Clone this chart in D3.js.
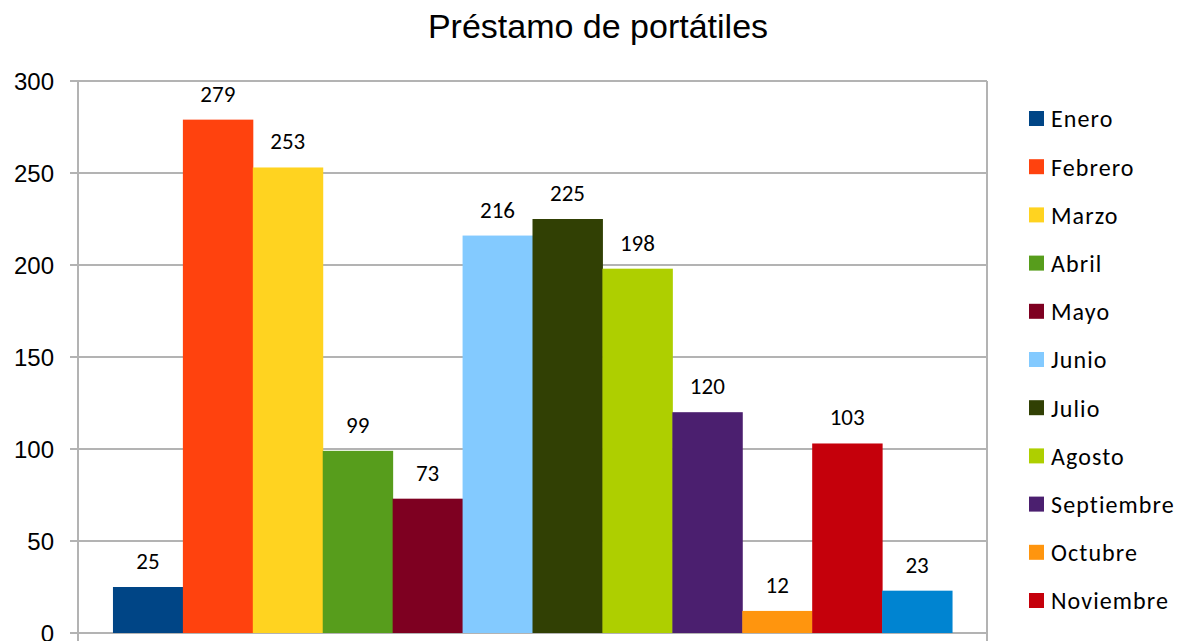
<!DOCTYPE html>
<html>
<head>
<meta charset="utf-8">
<script src="https://cdn.jsdelivr.net/npm/d3@7"></script>
<style>
  body { margin: 0; background: #fff; }
</style>
</head>
<body>
<div id="chart"></div>
<script>
const months = ["Enero", "Febrero", "Marzo", "Abril", "Mayo", "Junio", "Julio", "Agosto", "Septiembre", "Octubre", "Noviembre", "Diciembre"];
const loans = [25, 279, 253, 99, 73, 216, 225, 198, 120, 12, 103, 23];
const colors = ["#004586", "#ff420e", "#ffd320", "#579d1c", "#7e0021", "#83caff", "#314004", "#aecf00", "#4b1f6f", "#ff950e", "#c5000b", "#0084d1"];
const yTicks = [0, 50, 100, 150, 200, 250, 300];

const w = 1178, h = 641;
const plot = { left: 78, right: 987, top: 81, bottom: 633 };
const labelFont = "Carlito, Lato, 'Liberation Sans', sans-serif";
const gridColor = "#b3b3b3";

const svg = d3.select("#chart").append("svg")
  .attr("width", w)
  .attr("height", h);

// title
svg.append("text")
  .attr("x", 598)
  .attr("y", 38)
  .attr("text-anchor", "middle")
  .style("font-family", "'Liberation Sans', Arial, sans-serif")
  .style("font-size", "34px")
  .text("Préstamo de portátiles");

const y = d3.scaleLinear().domain([0, 300]).range([plot.bottom, plot.top]);
// 12 bars side by side, half a bar of gap at each end
const x = d3.scaleBand()
  .domain(months)
  .range([plot.left, plot.right])
  .paddingInner(0)
  .paddingOuter(0.5);

// grid lines
svg.append("g").selectAll("line")
  .data(yTicks)
  .enter().append("line")
  .attr("x1", plot.left - 8)
  .attr("x2", plot.right)
  .attr("y1", d => y(d))
  .attr("y2", d => y(d))
  .attr("stroke", gridColor)
  .attr("stroke-width", 2);

// y axis line + right border
svg.append("line")
  .attr("x1", plot.left).attr("x2", plot.left)
  .attr("y1", plot.top).attr("y2", h)
  .attr("stroke", gridColor).attr("stroke-width", 2);
svg.append("line")
  .attr("x1", plot.right).attr("x2", plot.right)
  .attr("y1", plot.top).attr("y2", h)
  .attr("stroke", gridColor).attr("stroke-width", 2);

// tick labels
svg.append("g").selectAll("text")
  .data(yTicks)
  .enter().append("text")
  .attr("x", 54)
  .attr("y", d => y(d))
  .attr("dy", "0.36em")
  .attr("text-anchor", "end")
  .style("font-family", "'Liberation Sans', Arial, sans-serif")
  .style("font-size", "24px")
  .text(d => d);

// bars
svg.append("g").selectAll("rect")
  .data(loans)
  .enter().append("rect")
  .attr("x", (d, i) => x(months[i]))
  .attr("width", x.bandwidth() + 0.5)
  .attr("y", d => y(d))
  .attr("height", d => y(0) - y(d))
  .attr("fill", (d, i) => colors[i]);

// value labels
svg.append("g").selectAll("text")
  .data(loans)
  .enter().append("text")
  .attr("x", (d, i) => x(months[i]) + x.bandwidth() / 2)
  .attr("y", d => y(d) - 18)
  .attr("text-anchor", "middle")
  .style("font-family", labelFont)
  .style("font-size", "23px")
  .text(d => d);

// legend
const legend = svg.append("g").selectAll("g")
  .data(months)
  .enter().append("g")
  .attr("transform", (d, i) => `translate(1029, ${119 + i * 48.2})`);

legend.append("rect")
  .attr("x", 0).attr("y", -8)
  .attr("width", 15).attr("height", 15)
  .attr("fill", (d, i) => colors[i]);

legend.append("text")
  .attr("x", 22)
  .attr("y", 0)
  .attr("dy", "0.35em")
  .style("font-family", labelFont)
  .style("font-size", "24px")
  .style("letter-spacing", "1.1px")
  .text(d => d);
</script>
</body>
</html>
